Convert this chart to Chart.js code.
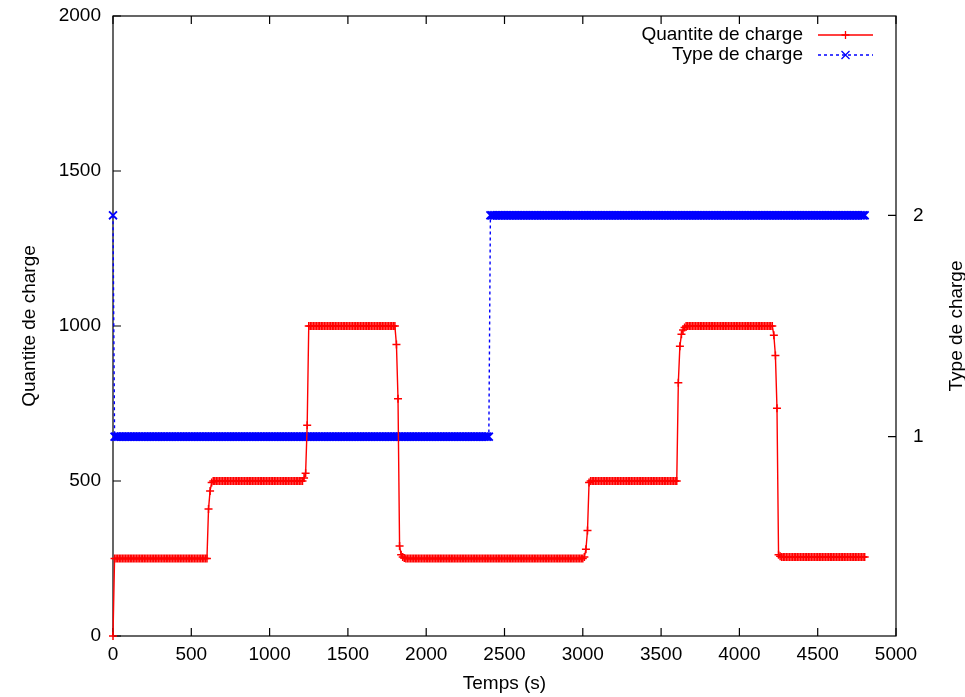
<!DOCTYPE html>
<html>
<head>
<meta charset="utf-8">
<script src="https://cdn.jsdelivr.net/npm/chart.js@4"></script>
<style>
  html, body { margin: 0; padding: 0; background: #fff; }
  #cadre { width: 965px; height: 697px; }
</style>
</head>
<body>
<div id="cadre"><canvas id="graphe"></canvas></div>
<script>
// Echantillons toutes les 10 s, de 0 à 4800 s
const pasEchantillonnage = 10;

const quantiteCharge = [
  0,
  250,250,250,250,250,250,250,250,250,250,250,250,250,250,250,250,250,250,250,250,
  250,250,250,250,250,250,250,250,250,250,250,250,250,250,250,250,250,250,250,250,
  250,250,250,250,250,250,250,250,250,250,250,250,250,250,250,250,250,250,250,250,
  410,468,495,
  500,500,500,500,500,500,500,500,500,500,500,500,500,500,500,500,500,500,500,500,
  500,500,500,500,500,500,500,500,500,500,500,500,500,500,500,500,500,500,500,500,
  500,500,500,500,500,500,500,500,500,500,500,500,500,500,500,500,500,500,
  510,525,680,
  1000,1000,1000,1000,1000,1000,1000,1000,1000,1000,1000,1000,1000,1000,1000,1000,1000,1000,1000,1000,
  1000,1000,1000,1000,1000,1000,1000,1000,1000,1000,1000,1000,1000,1000,1000,1000,1000,1000,1000,1000,
  1000,1000,1000,1000,1000,1000,1000,1000,1000,1000,1000,1000,1000,1000,1000,1000,
  940,765,290,262,255,252,
  250,250,250,250,250,250,250,250,250,250,250,250,250,250,250,250,250,250,250,250,
  250,250,250,250,250,250,250,250,250,250,250,250,250,250,250,250,250,250,250,250,
  250,250,250,250,250,250,250,250,250,250,250,250,250,250,250,250,250,250,250,250,
  250,250,250,250,250,250,250,250,250,250,250,250,250,250,250,250,250,250,250,250,
  250,250,250,250,250,250,250,250,250,250,250,250,250,250,250,250,250,250,250,250,
  250,250,250,250,250,250,250,250,250,250,250,250,250,250,
  255,280,340,495,
  500,500,500,500,500,500,500,500,500,500,500,500,500,500,500,500,500,500,500,500,
  500,500,500,500,500,500,500,500,500,500,500,500,500,500,500,500,500,500,500,500,
  500,500,500,500,500,500,500,500,500,500,500,500,500,500,500,500,
  817,935,973,987,995,
  1000,1000,1000,1000,1000,1000,1000,1000,1000,1000,1000,1000,1000,1000,1000,1000,1000,1000,1000,1000,
  1000,1000,1000,1000,1000,1000,1000,1000,1000,1000,1000,1000,1000,1000,1000,1000,1000,1000,1000,1000,
  1000,1000,1000,1000,1000,1000,1000,1000,1000,1000,1000,1000,1000,1000,1000,1000,
  970,905,735,262,257,
  255,255,255,255,255,255,255,255,255,255,255,255,255,255,255,255,255,255,255,255,
  255,255,255,255,255,255,255,255,255,255,255,255,255,255,255,255,255,255,255,255,
  255,255,255,255,255,255,255,255,255,255,255,255,255,255,
];

const typeCharge = [
  2,
  1,1,1,1,1,1,1,1,1,1,1,1,1,1,1,1,1,1,1,1,
  1,1,1,1,1,1,1,1,1,1,1,1,1,1,1,1,1,1,1,1,
  1,1,1,1,1,1,1,1,1,1,1,1,1,1,1,1,1,1,1,1,
  1,1,1,1,1,1,1,1,1,1,1,1,1,1,1,1,1,1,1,1,
  1,1,1,1,1,1,1,1,1,1,1,1,1,1,1,1,1,1,1,1,
  1,1,1,1,1,1,1,1,1,1,1,1,1,1,1,1,1,1,1,1,
  1,1,1,1,1,1,1,1,1,1,1,1,1,1,1,1,1,1,1,1,
  1,1,1,1,1,1,1,1,1,1,1,1,1,1,1,1,1,1,1,1,
  1,1,1,1,1,1,1,1,1,1,1,1,1,1,1,1,1,1,1,1,
  1,1,1,1,1,1,1,1,1,1,1,1,1,1,1,1,1,1,1,1,
  1,1,1,1,1,1,1,1,1,1,1,1,1,1,1,1,1,1,1,1,
  1,1,1,1,1,1,1,1,1,1,1,1,1,1,1,1,1,1,1,1,
  2,2,2,2,2,2,2,2,2,2,2,2,2,2,2,2,2,2,2,2,
  2,2,2,2,2,2,2,2,2,2,2,2,2,2,2,2,2,2,2,2,
  2,2,2,2,2,2,2,2,2,2,2,2,2,2,2,2,2,2,2,2,
  2,2,2,2,2,2,2,2,2,2,2,2,2,2,2,2,2,2,2,2,
  2,2,2,2,2,2,2,2,2,2,2,2,2,2,2,2,2,2,2,2,
  2,2,2,2,2,2,2,2,2,2,2,2,2,2,2,2,2,2,2,2,
  2,2,2,2,2,2,2,2,2,2,2,2,2,2,2,2,2,2,2,2,
  2,2,2,2,2,2,2,2,2,2,2,2,2,2,2,2,2,2,2,2,
  2,2,2,2,2,2,2,2,2,2,2,2,2,2,2,2,2,2,2,2,
  2,2,2,2,2,2,2,2,2,2,2,2,2,2,2,2,2,2,2,2,
  2,2,2,2,2,2,2,2,2,2,2,2,2,2,2,2,2,2,2,2,
  2,2,2,2,2,2,2,2,2,2,2,2,2,2,2,2,2,2,2,2,
];

const graduationsTemps = [0, 500, 1000, 1500, 2000, 2500, 3000, 3500, 4000, 4500, 5000];
const graduationsQuantite = [0, 500, 1000, 1500, 2000];
const graduationsType = [1, 2];

const ROUGE = '#ff0000';
const BLEU = '#0000ff';
const POLICE = '"Liberation Sans", Arial, sans-serif';
const TAILLE = 19;
const LONG_GRAD = 8;

if (quantiteCharge.length !== typeCharge.length) {
  console.warn('longueurs differentes', quantiteCharge.length, typeCharge.length);
}

function enPoints(valeurs) {
  return valeurs.map((v, i) => ({ x: i * pasEchantillonnage, y: v }));
}

function fixerGraduations(liste) {
  return (echelle) => { echelle.ticks = liste.map(v => ({ value: v })); };
}

// taille imposée de la boîte d'axe, sans marge ajoutée par les étiquettes
function fixerBoite(prop, valeur) {
  return (s) => {
    s[prop] = valeur;
    s.paddingTop = 0; s.paddingBottom = 0;
    s.paddingLeft = 0; s.paddingRight = 0;
  };
}

// pas de séparateur de milliers (comme gnuplot)
const texteBrut = (v) => String(v);

function tracerMarqueur(ctx, style, x, y, r) {
  ctx.beginPath();
  if (style === 'cross') {
    ctx.moveTo(x - r, y); ctx.lineTo(x + r, y);
    ctx.moveTo(x, y - r); ctx.lineTo(x, y + r);
  } else {
    ctx.moveTo(x - r, y - r); ctx.lineTo(x + r, y + r);
    ctx.moveTo(x - r, y + r); ctx.lineTo(x + r, y - r);
  }
  ctx.stroke();
}

// cadre, graduations vers l'intérieur (style gnuplot), légende et titre de droite
const habillage = {
  id: 'habillage',
  beforeDatasetsDraw(chart) {
    const { ctx, chartArea: a, scales } = chart;
    ctx.save();
    ctx.strokeStyle = '#000';
    ctx.lineWidth = 1.2;
    ctx.strokeRect(a.left, a.top, a.right - a.left, a.bottom - a.top);
    ctx.beginPath();
    scales.x.ticks.forEach(t => {
      const px = scales.x.getPixelForValue(t.value);
      ctx.moveTo(px, a.bottom); ctx.lineTo(px, a.bottom - LONG_GRAD);
      ctx.moveTo(px, a.top); ctx.lineTo(px, a.top + LONG_GRAD);
    });
    scales.y.ticks.forEach(t => {
      const py = scales.y.getPixelForValue(t.value);
      ctx.moveTo(a.left, py); ctx.lineTo(a.left + LONG_GRAD, py);
    });
    scales.y2.ticks.forEach(t => {
      const py = scales.y2.getPixelForValue(t.value);
      ctx.moveTo(a.right, py); ctx.lineTo(a.right - LONG_GRAD, py);
    });
    ctx.stroke();
    ctx.restore();
  },
  afterDraw(chart) {
    const { ctx, chartArea: a } = chart;
    ctx.save();
    ctx.font = `${TAILLE}px ${POLICE}`;
    ctx.fillStyle = '#000';
    ctx.textBaseline = 'middle';

    // légende
    const debutTrait = a.right - 78, finTrait = a.right - 23;
    chart.data.datasets.forEach((ds, i) => {
      const y = a.top + 19 + i * 20;
      ctx.textAlign = 'right';
      ctx.fillText(ds.label, a.right - 93, y);
      ctx.strokeStyle = ds.borderColor;
      ctx.lineWidth = 1.3;
      ctx.setLineDash(ds.borderDash || []);
      ctx.beginPath();
      ctx.moveTo(debutTrait, y); ctx.lineTo(finTrait, y);
      ctx.stroke();
      ctx.setLineDash([]);
      tracerMarqueur(ctx, ds.pointStyle, (debutTrait + finTrait) / 2, y, 4);
    });

    // titre de l'axe de droite
    ctx.translate(957, (a.top + a.bottom) / 2);
    ctx.rotate(-Math.PI / 2);
    ctx.textAlign = 'center';
    ctx.fillText('Type de charge', 0, 0);
    ctx.restore();
  }
};

Chart.defaults.font.family = POLICE;
Chart.defaults.font.size = TAILLE;
Chart.defaults.color = '#000';

new Chart(document.getElementById('graphe'), {
  type: 'line',
  data: {
    datasets: [
      {
        label: 'Quantite de charge',
        data: enPoints(quantiteCharge),
        yAxisID: 'y',
        borderColor: ROUGE,
        borderWidth: 1.4,
        pointStyle: 'cross',
        pointRadius: 4,
        pointBorderWidth: 1.5,
        pointBorderColor: ROUGE,
        pointBackgroundColor: ROUGE,
        tension: 0,
        clip: false,
      },
      {
        label: 'Type de charge',
        data: enPoints(typeCharge),
        yAxisID: 'y2',
        borderColor: BLEU,
        borderWidth: 1.4,
        borderDash: [3, 3],
        pointStyle: 'crossRot',
        pointRadius: 5.6,
        pointBorderWidth: 1.8,
        pointBorderColor: BLEU,
        pointBackgroundColor: BLEU,
        tension: 0,
        clip: false,
      },
    ],
  },
  options: {
    responsive: true,
    maintainAspectRatio: false,
    animation: false,
    events: [],
    layout: { padding: { top: 16, left: 0, right: 0, bottom: 0 } },
    plugins: { legend: { display: false }, tooltip: { enabled: false } },
    scales: {
      x: {
        type: 'linear',
        min: 0,
        max: 5000,
        afterBuildTicks: fixerGraduations(graduationsTemps),
        afterFit: fixerBoite('height', 61),
        ticks: { padding: 7, maxRotation: 0, autoSkip: false, callback: texteBrut },
        grid: { display: false, drawTicks: false },
        border: { display: false },
        title: { display: true, text: 'Temps (s)', padding: { top: 0, bottom: 2 } },
      },
      y: {
        position: 'left',
        min: 0,
        max: 2000,
        afterBuildTicks: fixerGraduations(graduationsQuantite),
        afterFit: fixerBoite('width', 113),
        ticks: { padding: 12, callback: texteBrut },
        grid: { display: false, drawTicks: false },
        border: { display: false },
        title: { display: true, text: 'Quantite de charge', padding: { top: 18, bottom: 0 } },
      },
      y2: {
        position: 'right',
        min: 0.1,
        max: 2.9,
        afterBuildTicks: fixerGraduations(graduationsType),
        afterFit: fixerBoite('width', 69),
        ticks: { padding: 17, callback: texteBrut },
        grid: { display: false, drawTicks: false },
        border: { display: false },
      },
    },
  },
  plugins: [habillage],
});
</script>
</body>
</html>
